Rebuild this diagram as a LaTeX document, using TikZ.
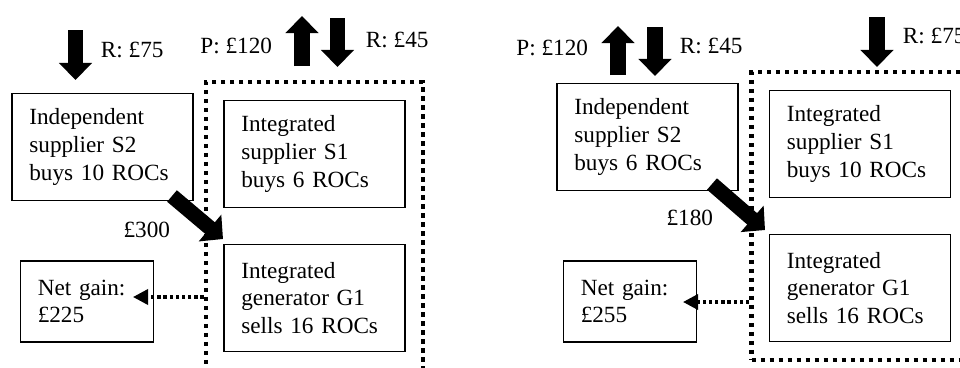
\documentclass[tikz,border=0pt]{standalone}
\usepackage{fontspec}
\setmainfont{Liberation Serif}
\usetikzlibrary{arrows.meta,fit}
\tikzset{
	box/.style={draw, line width=0.9pt, align=left, text width=#1, inner xsep=12.4pt, inner ysep=4pt},
	sbox/.style={box=104pt, minimum height=76.5pt},
	nbox/.style={box=70pt, minimum height=57.6pt},
	group/.style={draw, line width=3.1pt, dash pattern=on 3.1pt off 3.3pt, inner sep=12.3pt},
	flow/.style={line width=10.7pt, -{Triangle[length=12.1pt, width=22.8pt]}},
	pay/.style={line width=10.7pt, -{Triangle[length=12.1pt, width=24.2pt]}},
	gain/.style={line width=2.4pt, dash pattern=on 2.4pt off 2pt, -{Triangle[length=10.7pt, width=10.7pt]}},
}
\begin{document}
\begin{tikzpicture}[x=0.025cm, y=-0.025cm, font=\fontsize{16.5}{19.6}\selectfont]
	\useasboundingbox(0,0) rectangle (960,368);
	\clip(0,0) rectangle (960,368);
	% left case
	\node(s2L)[sbox] at (102.5,147){Independent\\supplier S2\\buys 10 ROCs};
	\node(s1L)[sbox] at (314.5,154){Integrated\\supplier S1\\buys 6 ROCs};
	\node(g1L)[sbox] at (314.5,298){Integrated\\generator G1\\sells 16 ROCs};
	\node(netL)[nbox] at (87,301.5){Net gain:\\£225};
	\node(grpL)[group, fit=(s1L)(g1L)]{};
	\coordinate(rtopL) at (75.5,30);
	\coordinate(rendL) at (75.5,80);
	\coordinate(pbotL) at (302,66);
	\coordinate(ptopL) at (302,16);
	\coordinate(qtopL) at (337.5,18);
	\coordinate(qendL) at (337.5,67);
	\coordinate(dstartL) at (172,196);
	\coordinate(dendL) at (223,239);
	\coordinate(tipL) at (133,297);
	\draw[flow](rtopL) -- (rendL);
	\draw[flow](pbotL) -- (ptopL);
	\draw[flow](qtopL) -- (qendL);
	\draw[pay](dstartL) -- (dendL);
	\draw[gain](grpL.west |- tipL) -- (tipL);
	\node(r75L)[anchor=base west] at (96,57){R: £75};
	\node(p120L)[anchor=base east] at (277,53){P: £120};
	\node(r45L)[anchor=base west] at (361,47){R: £45};
	\node(m300)[anchor=base east] at (175,237){£300};
	% right case
	\node(s2R)[sbox] at (647.5,137){Independent\\supplier S2\\buys 6 ROCs};
	\node(s1R)[sbox] at (860,144){Integrated\\supplier S1\\buys 10 ROCs};
	\node(g1R)[sbox] at (860,288){Integrated\\generator G1\\sells 16 ROCs};
	\node(netR)[nbox] at (630,301.5){Net gain:\\£255};
	\node(grpR)[group, fit=(s1R)(g1R)]{};
	\coordinate(pbotR) at (618,75);
	\coordinate(ptopR) at (618,26);
	\coordinate(qtopR) at (655,27);
	\coordinate(qendR) at (655,76);
	\coordinate(rtopR) at (877,17);
	\coordinate(rendR) at (877,67);
	\coordinate(dstartR) at (712,184);
	\coordinate(dendR) at (765,230);
	\coordinate(tipR) at (683,302);
	\draw[flow](pbotR) -- (ptopR);
	\draw[flow](qtopR) -- (qendR);
	\draw[flow](rtopR) -- (rendR);
	\draw[pay](dstartR) -- (dendR);
	\draw[gain](grpR.west |- tipR) -- (tipR);
	\node(p120R)[anchor=base east] at (593,55){P: £120};
	\node(r45R)[anchor=base west] at (675,53){R: £45};
	\node(r75R)[anchor=base west] at (898,43){R: £75};
	\node(m180)[anchor=base east] at (718,225){£180};
\end{tikzpicture}
\end{document}
